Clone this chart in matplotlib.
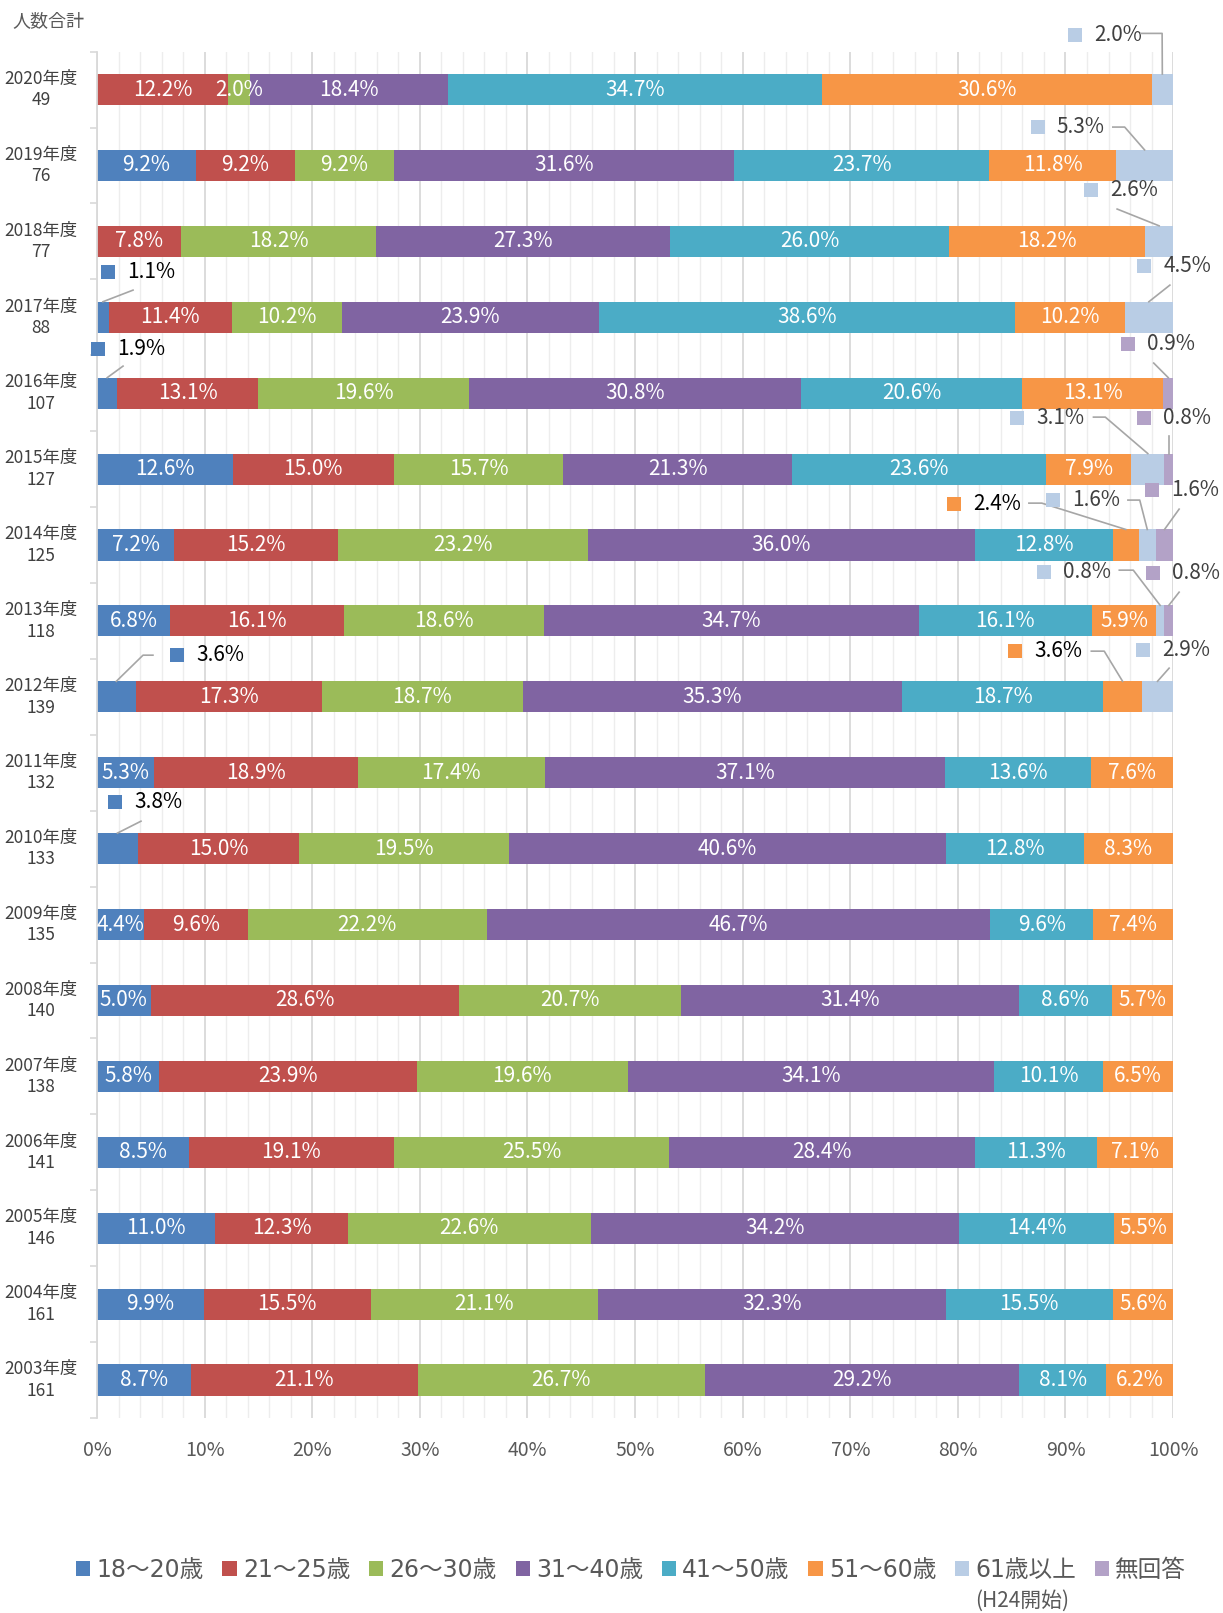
import numpy as np
import matplotlib
matplotlib.use('Agg')
import matplotlib.pyplot as plt
from matplotlib.patches import Patch

# 日本語フォント
plt.rcParams['font.family'] = ['Noto Sans CJK JP', 'DejaVu Sans']

# 年度と人数合計（上から順）
years = ['2020年度', '2019年度', '2018年度', '2017年度', '2016年度', '2015年度',
         '2014年度', '2013年度', '2012年度', '2011年度', '2010年度', '2009年度',
         '2008年度', '2007年度', '2006年度', '2005年度', '2004年度', '2003年度']
totals = [49, 76, 77, 88, 107, 127, 125, 118, 139, 132, 133, 135, 140, 138, 141, 146, 161, 161]

groups = ['18～20歳', '21～25歳', '26～30歳', '31～40歳', '41～50歳', '51～60歳', '61歳以上', '無回答']
colors = ['#4F81BD', '#C0504D', '#9BBB59', '#8064A2', '#4BACC6', '#F79646', '#B9CDE5', '#B3A2C7']

# 各年代の割合（%）
age18_20 = [0, 9.2, 0, 1.1, 1.9, 12.6, 7.2, 6.8, 3.6, 5.3, 3.8, 4.4, 5.0, 5.8, 8.5, 11.0, 9.9, 8.7]
age21_25 = [12.2, 9.2, 7.8, 11.4, 13.1, 15.0, 15.2, 16.1, 17.3, 18.9, 15.0, 9.6, 28.6, 23.9, 19.1, 12.3, 15.5, 21.1]
age26_30 = [2.0, 9.2, 18.2, 10.2, 19.6, 15.7, 23.2, 18.6, 18.7, 17.4, 19.5, 22.2, 20.7, 19.6, 25.5, 22.6, 21.1, 26.7]
age31_40 = [18.4, 31.6, 27.3, 23.9, 30.8, 21.3, 36.0, 34.7, 35.3, 37.1, 40.6, 46.7, 31.4, 34.1, 28.4, 34.2, 32.3, 29.2]
age41_50 = [34.7, 23.7, 26.0, 38.6, 20.6, 23.6, 12.8, 16.1, 18.7, 13.6, 12.8, 9.6, 8.6, 10.1, 11.3, 14.4, 15.5, 8.1]
age51_60 = [30.6, 11.8, 18.2, 10.2, 13.1, 7.9, 2.4, 5.9, 3.6, 7.6, 8.3, 7.4, 5.7, 6.5, 7.1, 5.5, 5.6, 6.2]
age61_ = [2.0, 5.3, 2.6, 4.5, 0, 3.1, 1.6, 0.8, 2.9, 0, 0, 0, 0, 0, 0, 0, 0, 0]
no_answer = [0, 0, 0, 0, 0.9, 0.8, 1.6, 0.8, 0, 0, 0, 0, 0, 0, 0, 0, 0, 0]

series = [age18_20, age21_25, age26_30, age31_40, age41_50, age51_60, age61_, no_answer]

# 外に出すラベル: (行, 系列, マーカーx, マーカーdy, 線の始点x, 始点dy, 折れ点x, 文字色)
callouts = [
    (0, 6, 90.9, -0.725, 97.0, -0.74, 98.98, '#404040'),
    (1, 6, 87.4, -0.506, 94.4, -0.506, 95.5, '#404040'),
    (2, 6, 92.4, -0.676, 94.8, -0.426, None, '#404040'),
    (3, 6, 97.3, -0.675, 99.7, -0.424, None, '#404040'),
    (3, 0, 0.98, -0.602, 3.35, -0.358, None, '#000000'),
    (4, 0, 0.05, -0.588, 2.42, -0.357, None, '#000000'),
    (4, 7, 95.8, -0.647, 98.2, -0.397, None, '#404040'),
    (5, 6, 85.5, -0.672, 92.6, -0.685, 93.7, '#404040'),
    (5, 7, 97.3, -0.672, 99.6, -0.435, 99.6, '#404040'),
    (6, 5, 79.65, -0.539, 86.6, -0.552, 87.8, '#000000'),
    (6, 6, 88.85, -0.592, 95.8, -0.592, 96.9, '#404040'),
    (6, 7, 98.05, -0.723, 100.56, -0.473, None, '#404040'),
    (7, 6, 88.0, -0.643, 95.0, -0.669, 96.3, '#404040'),
    (7, 7, 98.14, -0.630, 100.56, -0.379, None, '#404040'),
    (8, 5, 85.3, -0.602, 92.4, -0.602, 93.6, '#000000'),
    (8, 6, 97.2, -0.615, 99.63, -0.378, None, '#404040'),
    (8, 0, 7.43, -0.549, 5.2, -0.549, 4.28, '#000000'),
    (10, 0, 1.67, -0.613, 4.09, -0.362, None, '#000000'),
]

n = len(years)
data = np.array(series, dtype=float)          # (系列, 行)
share = data / data.sum(axis=0) * 100          # 100%積み上げ
lefts = np.vstack([np.zeros(n), np.cumsum(share, axis=0)[:-1]])
y = np.arange(n)
bar_h = 0.41

fig = plt.figure(figsize=(12.23, 16.13), dpi=100)
ax = fig.add_axes([0.0793, 0.1209, 0.8799, 0.8471])

for k in range(len(series)):
    ax.barh(y, share[k], left=lefts[k], height=bar_h, color=colors[k], zorder=2)

out = set((c[0], c[1]) for c in callouts)
for k in range(len(series)):
    for i in range(n):
        if data[k, i] == 0 or (i, k) in out:
            continue
        ax.text(lefts[k, i] + share[k, i] / 2, y[i], f'{data[k, i]:.1f}%',
                ha='center', va='center', color='white', fontsize=15, zorder=3)

for row, k, mx, mdy, sx, sdy, ex, tc in callouts:
    ax.plot(mx, row + mdy, marker='s', ms=9.5, color=colors[k], mew=0, clip_on=False, zorder=4)
    ax.text(mx + 1.8, row + mdy, f'{data[k, row]:.1f}%', ha='left', va='center',
            color=tc, fontsize=15, zorder=4)
    ax_x = lefts[k, row] + share[k, row] / 2
    xs, ys = [sx], [row + sdy]
    if ex is not None:
        xs.append(ex)
        ys.append(row + sdy)
    xs.append(ax_x)
    ys.append(row - bar_h / 2)
    ax.plot(xs, ys, color='#A6A6A6', lw=1.2, clip_on=False, zorder=4)

ax.set_xlim(0, 100)
ax.set_ylim(n - 0.5, -0.5)
ax.set_xticks(np.arange(0, 101, 10))
ax.set_xticklabels([f'{v}%' for v in range(0, 101, 10)])
ax.set_xticks(np.arange(0, 101, 2), minor=True)
ax.grid(axis='x', which='major', color='#D9D9D9', lw=1.3)
ax.grid(axis='x', which='minor', color='#EDEDED', lw=1.0)
ax.set_axisbelow(True)

ax.set_yticks(y - 0.05)
ax.set_yticklabels([f'{a}\n{b}' for a, b in zip(years, totals)], linespacing=1.25)
ax.set_yticks(np.arange(n + 1) - 0.5, minor=True)
for lbl in ax.get_yticklabels():
    lbl.set_multialignment('center')

ax.tick_params(axis='x', which='both', length=0, pad=16, labelsize=14, labelcolor='#595959')
ax.tick_params(axis='y', which='major', length=0, pad=14, labelsize=12.5, labelcolor='#404040')
ax.tick_params(axis='y', which='minor', length=5, width=1.2, color='#D9D9D9')

for s in ['top', 'right', 'bottom']:
    ax.spines[s].set_visible(False)
ax.spines['left'].set_color('#D9D9D9')
ax.spines['left'].set_linewidth(1.3)

fig.text(0.0098, 0.987, '人数合計', fontsize=13, color='#595959', ha='left', va='center')

handles = [Patch(facecolor=c, edgecolor='none') for c in colors]
leg = fig.legend(handles, groups, loc='center', bbox_to_anchor=(0.516, 0.0267), ncol=8,
                 frameon=False, handlelength=0.6, handleheight=0.6,
                 handletextpad=0.26, columnspacing=0.8, labelcolor='#595959',
                 prop={'family': ['DejaVu Sans', 'Noto Sans CJK JP'], 'size': 17})

fig.canvas.draw()
bb = leg.get_texts()[6].get_window_extent()
fx = fig.transFigure.inverted().transform((bb.x0, bb.y0))[0]
fig.text(fx, 0.0074, '(H24開始)', fontsize=15, color='#595959', ha='left', va='center')

fig.savefig('out.png', dpi=100)
